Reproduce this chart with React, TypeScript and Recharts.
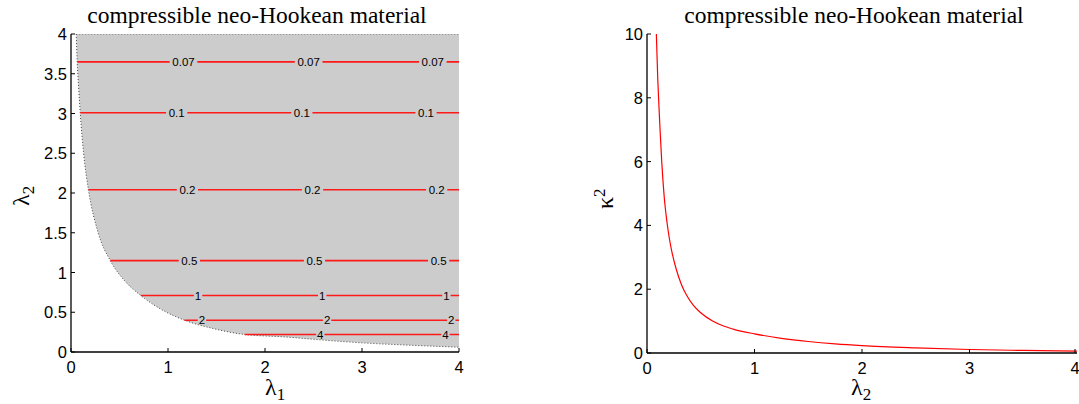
import React from 'react';
import { ComposedChart, LineChart, Line, Area, Scatter, XAxis, YAxis } from 'recharts';

// lower edge of the shaded (admissible) region
const boundaryX = [0.054, 0.064, 0.08, 0.095, 0.13, 0.18, 0.28, 0.405, 0.55, 0.72, 0.91, 1.17, 1.45, 1.79, 2.2, 2.6, 3.0, 3.5, 4.0];
const boundaryY = [4.0, 3.65, 3.3, 3.01, 2.5, 2.04, 1.5, 1.15, 0.9, 0.71, 0.55, 0.4, 0.3, 0.22, 0.19, 0.15, 0.115, 0.085, 0.06];
const regionTop = 4;

// contour levels of kappa^2 (horizontal lines)
const contourLevels = ['0.07', '0.1', '0.2', '0.5', '1', '2', '4'];
const contourY = [3.65, 3.01, 2.04, 1.15, 0.71, 0.4, 0.22];
const contourStartX = [0.064, 0.095, 0.18, 0.405, 0.72, 1.17, 1.79];
const contourLabelX = [
  [1.16, 2.45, 3.73],
  [1.09, 2.38, 3.66],
  [1.2, 2.49, 3.77],
  [1.22, 2.51, 3.79],
  [1.31, 2.59, 3.87],
  [1.35, 2.64, 3.92],
  [2.57, 3.86],
];

// right panel: kappa^2 against lambda_2
const kappaX = [0.087, 0.1, 0.109, 0.12, 0.137, 0.16, 0.186, 0.21, 0.233, 0.27, 0.32, 0.37, 0.43, 0.5, 0.61, 0.7, 0.8, 1.0, 1.25, 1.5, 1.75, 2.0, 2.5, 3.0, 3.5, 4.0];
const kappaY = [10, 8.6, 7.9, 7.1, 6.0, 4.9, 4.1, 3.55, 3.15, 2.65, 2.15, 1.8, 1.5, 1.26, 1.0, 0.86, 0.75, 0.6, 0.46, 0.36, 0.285, 0.23, 0.16, 0.11, 0.08, 0.06];

const xTicks = [0, 1, 2, 3, 4];
const leftYTicks = [0, 0.5, 1, 1.5, 2, 2.5, 3, 3.5, 4];
const rightYTicks = [0, 2, 4, 6, 8, 10];

const TITLE = 'compressible neo-Hookean material';

const bandData = boundaryX.map((x, i) => ({ x, band: [boundaryY[i], regionTop] }));
const labelData = contourLabelX.flatMap((xs, i) => xs.map((x) => ({ x, y: contourY[i], lab: contourLevels[i] })));
const kappaData = kappaX.map((x, i) => ({ x, k: kappaY[i] }));

const sans = '"Liberation Sans", Arial, Helvetica, sans-serif';
const serif = '"Liberation Serif", "Times New Roman", serif';
const tickFont = 16.5;

const BottomTick = ({ x, y, payload }: any) => (
  <g>
    <line x1={x} x2={x} y1={y} y2={y - 4} stroke="#000" />
    <text x={x} y={y + 21} textAnchor="middle" fontSize={tickFont} fontFamily={sans} fill="#000">{payload.value}</text>
  </g>
);
const LeftTick = ({ x, y, payload }: any) => (
  <g>
    <line x1={x} x2={x + 4} y1={y} y2={y} stroke="#000" />
    <text x={x - 4} y={y + 6} textAnchor="end" fontSize={tickFont} fontFamily={sans} fill="#000">{payload.value}</text>
  </g>
);
const TopTick = ({ x, y }: any) => <line x1={x} x2={x} y1={y} y2={y + 4} stroke="#000" />;
const RightTick = ({ x, y }: any) => <line x1={x} x2={x - 4} y1={y} y2={y} stroke="#000" />;

const ContourLabel = (props: any) => {
  const { cx, cy, payload } = props;
  const w = payload.lab.length * 6.4 + 2;
  return (
    <g>
      <rect x={cx - w / 2} y={cy - 3} width={w} height={6} fill="#cccccc" />
      <text x={cx} y={cy + 4} textAnchor="middle" fontSize={11.5} fontFamily={sans} fill="#000">{payload.lab}</text>
    </g>
  );
};

const axisStroke = { stroke: '#000', strokeWidth: 1.3 };

const Title = ({ cx }: { cx: number }) => (
  <div style={{ position: 'absolute', left: cx - 200, width: 400, top: 1, textAlign: 'center', fontFamily: serif, fontSize: 23.5, lineHeight: '28px', color: '#000' }}>
    {TITLE}
  </div>
);

const subStyle = { fontSize: 17, lineHeight: 0, verticalAlign: '-5px' };
const supStyle = { fontSize: 17, lineHeight: 0, verticalAlign: '8px' };

const AxisTitle = ({ left, top, rotate, children }: any) => (
  <div style={{
    position: 'absolute', left, top, fontFamily: serif, fontSize: 24, lineHeight: '22px', whiteSpace: 'nowrap',
    transform: rotate ? 'rotate(-90deg)' : undefined, transformOrigin: '13px 11px',
  }}>
    {children}
  </div>
);

export default function App() {
  return (
    <div style={{ position: 'absolute', left: 0, top: 0, width: 1079, height: 404, background: '#fff', overflow: 'hidden' }}>
      <Title cx={257} />
      <Title cx={854} />

      <div style={{ position: 'absolute', left: 0, top: 0 }}>
        <ComposedChart width={480} height={404} margin={{ top: 34, right: 21, bottom: 0, left: 0 }}>
          <XAxis dataKey="x" type="number" domain={[0, 4]} ticks={xTicks} allowDataOverflow height={52}
            tickSize={0} tickMargin={0} tick={<BottomTick />} tickLine={false} axisLine={axisStroke} />
          <XAxis xAxisId="top" orientation="top" type="number" domain={[0, 4]} ticks={xTicks} allowDataOverflow height={0}
            tickSize={0} tickMargin={0} tick={<TopTick />} tickLine={false} axisLine={axisStroke} />
          <YAxis type="number" domain={[0, 4]} ticks={leftYTicks} allowDataOverflow width={71}
            tickSize={0} tickMargin={0} tick={<LeftTick />} tickLine={false} axisLine={axisStroke} />
          <YAxis yAxisId="right" orientation="right" type="number" domain={[0, 4]} ticks={leftYTicks} allowDataOverflow width={0}
            tickSize={0} tickMargin={0} tick={<RightTick />} tickLine={false} axisLine={axisStroke} />
          <Area data={bandData} dataKey="band" type="monotone" fill="#cccccc" fillOpacity={1}
            stroke="#444" strokeWidth={1} strokeDasharray="1 2" isAnimationActive={false} />
          {contourY.map((y, i) => (
            <Line key={contourLevels[i]} data={[{ x: contourStartX[i], y }, { x: 4, y }]} dataKey="y"
              stroke="#ff1a1a" strokeWidth={1.6} dot={false} activeDot={false} isAnimationActive={false} />
          ))}
          <Scatter data={labelData} dataKey="y" shape={<ContourLabel />} isAnimationActive={false} />
        </ComposedChart>
      </div>

      <div style={{ position: 'absolute', left: 560, top: 0 }}>
        <LineChart width={519} height={404} data={kappaData} margin={{ top: 34, right: 2, bottom: 0, left: 0 }}>
          <XAxis dataKey="x" type="number" domain={[0, 4]} ticks={xTicks} allowDataOverflow height={51}
            tickSize={0} tickMargin={0} tick={<BottomTick />} tickLine={false} axisLine={axisStroke} />
          <XAxis xAxisId="top" orientation="top" type="number" domain={[0, 4]} ticks={xTicks} allowDataOverflow height={0}
            tickSize={0} tickMargin={0} tick={<TopTick />} tickLine={false} axisLine={axisStroke} />
          <YAxis type="number" domain={[0, 10]} ticks={rightYTicks} allowDataOverflow width={87}
            tickSize={0} tickMargin={0} tick={<LeftTick />} tickLine={false} axisLine={axisStroke} />
          <YAxis yAxisId="right" orientation="right" type="number" domain={[0, 10]} ticks={rightYTicks} allowDataOverflow width={0}
            tickSize={0} tickMargin={0} tick={<RightTick />} tickLine={false} axisLine={axisStroke} />
          <Line dataKey="k" type="monotone" stroke="#ff0000" strokeWidth={1.2} dot={false} activeDot={false} isAnimationActive={false} />
        </LineChart>
      </div>

      {/* axis titles */}
      <AxisTitle left={265} top={376}>λ<span style={subStyle}>1</span></AxisTitle>
      <AxisTitle left={8} top={182} rotate>λ<span style={subStyle}>2</span></AxisTitle>
      <AxisTitle left={851} top={376}>λ<span style={subStyle}>2</span></AxisTitle>
      <AxisTitle left={592} top={185} rotate>κ<span style={supStyle}>2</span></AxisTitle>
    </div>
  );
}
